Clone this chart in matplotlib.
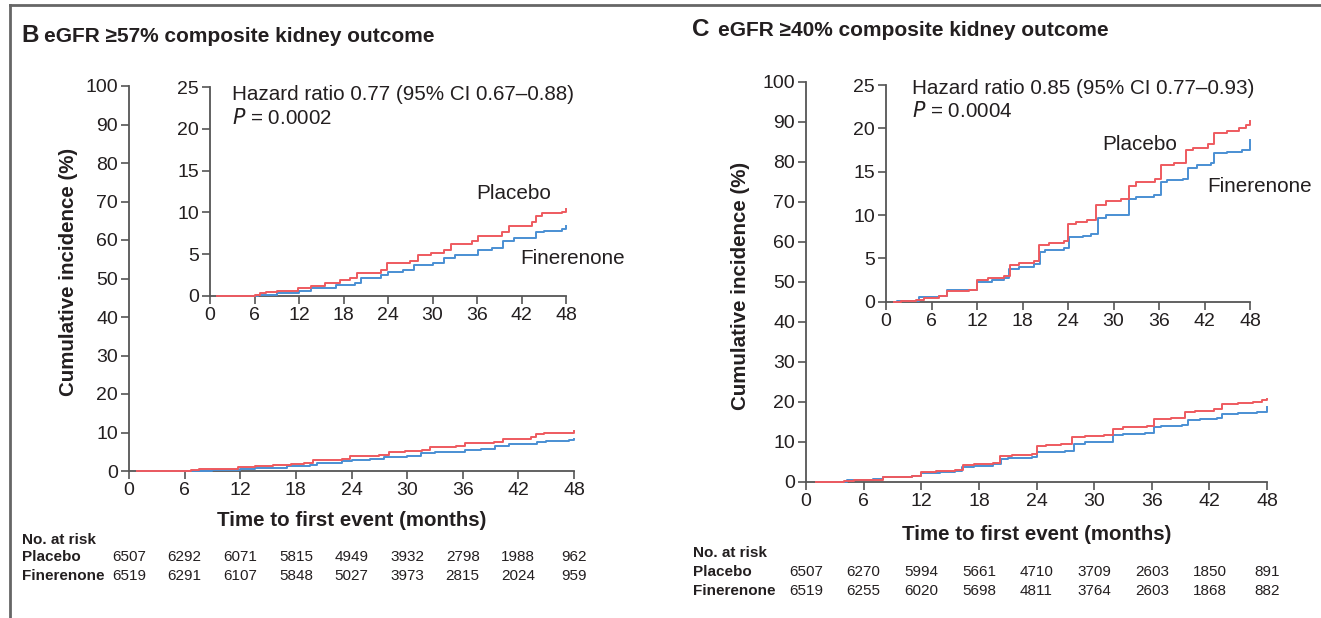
import numpy as np
import matplotlib
matplotlib.use("Agg")
import matplotlib.pyplot as plt
from matplotlib.lines import Line2D

plt.rcParams['font.family'] = ['Liberation Sans', 'DejaVu Sans']

W, H = 1321, 618
TXT = '#231f20'
AX = '#555555'
RED = '#ee5a5f'
BLUE = '#4a8fd3'

months = [0, 6, 12, 18, 24, 30, 36, 42, 48]

# Panel B: eGFR >=57% composite kidney outcome (cumulative incidence, %)
b_placebo_t = [0.9, 6.0, 6.7, 7.6, 9.0, 11.8, 13.6, 15.5, 17.5, 18.9, 19.8, 23.0, 23.8,
               27.0, 28.0, 29.8, 31.6, 32.5, 35.3, 36.2, 39.4, 40.3, 43.4, 43.9, 44.8, 47.5, 48.0]
b_placebo_v = [0.0, 0.1, 0.3, 0.5, 0.6, 1.0, 1.2, 1.6, 1.9, 2.1, 2.8, 3.1, 4.0,
               4.2, 4.9, 5.2, 5.5, 6.2, 6.6, 7.2, 7.6, 8.4, 8.8, 9.6, 9.9, 10.0, 10.4]
b_finer_t = [0.9, 6.5, 9.0, 12.0, 13.6, 17.0, 19.5, 20.3, 23.0, 24.0, 26.0, 27.5, 30.0,
             31.5, 33.0, 36.2, 38.0, 39.5, 41.0, 44.0, 45.0, 47.5, 48.0]
b_finer_v = [0.0, 0.1, 0.3, 0.6, 0.9, 1.3, 1.6, 2.2, 2.5, 2.9, 3.1, 3.7, 3.9,
             4.6, 4.9, 5.5, 5.8, 6.6, 6.9, 7.6, 7.8, 8.0, 8.4]
b_risk_placebo = [6507, 6292, 6071, 5815, 4949, 3932, 2798, 1988, 962]
b_risk_finer = [6519, 6291, 6107, 5848, 5027, 3973, 2815, 2024, 959]

# Panel C: eGFR >=40% composite kidney outcome
c_placebo_t = [1.0, 2.0, 4.0, 5.0, 7.0, 8.0, 11.0, 12.0, 13.5, 15.5, 16.3, 17.5, 19.5,
               20.2, 21.5, 23.5, 24.0, 25.0, 26.5, 27.7, 29.0, 31.0, 32.0, 33.0, 35.5,
               36.2, 38.0, 39.5, 40.5, 42.5, 43.3, 45.0, 46.5, 47.5, 48.0]
c_placebo_v = [0.0, 0.1, 0.2, 0.4, 0.6, 1.2, 1.4, 2.5, 2.7, 3.0, 4.2, 4.5, 4.7,
               6.5, 6.8, 7.0, 9.0, 9.2, 9.4, 11.2, 11.6, 11.8, 13.3, 13.8, 14.1,
               15.8, 16.0, 17.5, 17.7, 18.2, 19.5, 19.7, 20.0, 20.4, 20.8]
c_finer_t = [1.0, 1.5, 4.3, 7.0, 8.0, 11.0, 12.0, 14.0, 15.5, 16.2, 17.5, 19.5, 20.3,
             21.0, 23.5, 24.1, 26.0, 27.0, 27.9, 29.0, 32.0, 33.0, 35.3, 36.2, 37.0,
             39.1, 39.8, 41.0, 42.8, 43.3, 45.0, 47.0, 48.0]
c_finer_v = [0.0, 0.1, 0.5, 0.7, 1.3, 1.4, 2.3, 2.5, 2.7, 3.8, 4.0, 4.4, 5.7,
             6.0, 6.2, 7.5, 7.6, 7.8, 9.6, 10.0, 11.8, 12.1, 12.3, 13.8, 14.0,
             14.2, 15.4, 15.8, 16.0, 17.1, 17.3, 17.5, 18.7]
c_risk_placebo = [6507, 6270, 5994, 5661, 4710, 3709, 2603, 1850, 891]
c_risk_finer = [6519, 6255, 6020, 5698, 4811, 3764, 2603, 1868, 882]

fig = plt.figure(figsize=(W / 100, H / 100), dpi=100)
fig.patch.set_facecolor('white')

TICK_FS = 14
NOTE_FS = 14.9
LABEL_FS = 14.8
TITLE_FS = 15
RISK_FS = 11


def px_rect(x0, x1, y_bottom, y_top):
    return [x0 / W, 1 - y_bottom / H, (x1 - x0) / W, (y_bottom - y_top) / H]


def ftext(x, y, s, **kw):
    kw.setdefault('color', TXT)
    kw.setdefault('va', 'center')
    return fig.text(x / W, 1 - y / H, s, **kw)


def style(ax, ymax, ystep):
    ax.set_xlim(0, 48)
    ax.set_ylim(0, ymax)
    ax.set_xticks(months)
    ax.set_yticks(np.arange(0, ymax + 1, ystep))
    for s in ('top', 'right'):
        ax.spines[s].set_visible(False)
    for s in ('left', 'bottom'):
        ax.spines[s].set_color(AX)
        ax.spines[s].set_linewidth(1.3)
    ax.tick_params(direction='out', length=6, width=1.2, color=AX,
                   labelsize=TICK_FS, labelcolor=TXT, pad=2)
    ax.set_facecolor('none')


def curves(ax, pt, pv, ft, fv):
    ax.step(ft, fv, where='post', color=BLUE, lw=1.4, clip_on=False, zorder=3)
    ax.step(pt, pv, where='post', color=RED, lw=1.4, clip_on=False, zorder=3)


panels = [
    dict(letter='B', title='eGFR \u226557% composite kidney outcome', tx=21, ty=35, gx=44,
         main=(129, 574, 471, 86), inset=(210, 566, 296, 87),
         pt=b_placebo_t, pv=b_placebo_v, ft=b_finer_t, fv=b_finer_v,
         hr='Hazard ratio 0.77 (95% CI 0.67\u20130.88)', p='0.0002', hx=232, hy=95,
         plac=(514, 194), fin=(573, 258), ylab=(68, 272), xlab=(352, 521),
         risk_lab_x=22, risk_y=(540, 557, 576),
         rp=b_risk_placebo, rf=b_risk_finer),
    dict(letter='C', title='eGFR \u226540% composite kidney outcome', tx=692, ty=29, gx=718,
         main=(806, 1267, 482, 82), inset=(886, 1250, 301.7, 85),
         pt=c_placebo_t, pv=c_placebo_v, ft=c_finer_t, fv=c_finer_v,
         hr='Hazard ratio 0.85 (95% CI 0.77\u20130.93)', p='0.0004', hx=912, hy=88,
         plac=(1140, 144), fin=(1260, 186), ylab=(741, 286), xlab=(1037, 535),
         risk_lab_x=693, risk_y=(553, 572, 591),
         rp=c_risk_placebo, rf=c_risk_finer),
]

for p in panels:
    x0, x1, yb, yt = p['main']
    ax = fig.add_axes(px_rect(x0, x1, yb, yt))
    style(ax, 100, 10)
    curves(ax, p['pt'], p['pv'], p['ft'], p['fv'])

    ix0, ix1, iyb, iyt = p['inset']
    ins = fig.add_axes(px_rect(ix0, ix1, iyb, iyt))
    style(ins, 25, 5)
    curves(ins, p['pt'], p['pv'], p['ft'], p['fv'])

    # titles
    ftext(p['tx'], p['ty'], p['letter'], fontsize=17.5, fontweight='bold', ha='left')
    ftext(p['gx'], p['ty'] + 1, p['title'], fontsize=TITLE_FS, fontweight='bold', ha='left')

    # statistics
    ftext(p['hx'], p['hy'], p['hr'], fontsize=NOTE_FS, ha='left')
    ftext(p['hx'], p['hy'] + 23, r'$\it{P}$' + ' = ' + p['p'], fontsize=NOTE_FS, ha='left')

    ftext(*p['plac'], 'Placebo', fontsize=NOTE_FS, ha='center')
    ftext(*p['fin'], 'Finerenone', fontsize=NOTE_FS, ha='center')

    ftext(*p['ylab'], 'Cumulative incidence (%)', fontsize=LABEL_FS, fontweight='bold',
          ha='center', rotation=90)
    ftext(*p['xlab'], 'Time to first event (months)', fontsize=LABEL_FS, fontweight='bold',
          ha='center')

    # numbers at risk, aligned under the month ticks of the main axis
    ry0, ry1, ry2 = p['risk_y']
    lx = p['risk_lab_x']
    ftext(lx, ry0, 'No. at risk', fontsize=RISK_FS, fontweight='bold', ha='left')
    ftext(lx, ry1, 'Placebo', fontsize=RISK_FS, fontweight='bold', ha='left')
    ftext(lx, ry2, 'Finerenone', fontsize=RISK_FS, fontweight='bold', ha='left')
    xs = np.linspace(x0, x1, len(months))
    for xx, a, b in zip(xs, p['rp'], p['rf']):
        ftext(xx, ry1, str(a), fontsize=RISK_FS, ha='center')
        ftext(xx, ry2, str(b), fontsize=RISK_FS, ha='center')

# frame lines
fig.add_artist(Line2D([10 / W, 1.0], [1 - 5 / H, 1 - 5 / H], color='#666666', lw=2,
                      transform=fig.transFigure))
fig.add_artist(Line2D([10 / W, 10 / W], [1 - 5 / H, 0.0], color='#666666', lw=2,
                      transform=fig.transFigure))

fig.savefig('out.png', dpi=100)
